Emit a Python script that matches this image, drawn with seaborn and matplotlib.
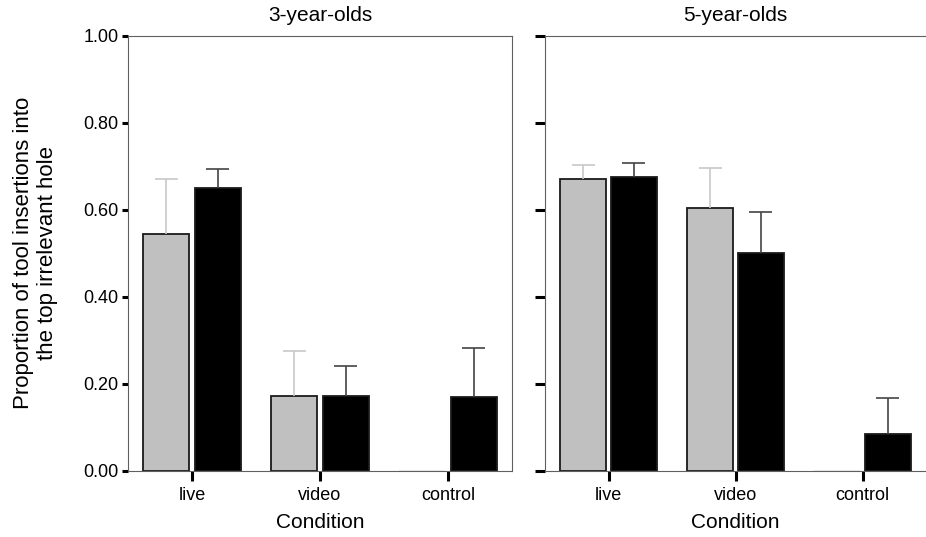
import numpy as np
import pandas as pd
import matplotlib
matplotlib.use("Agg")
import matplotlib.pyplot as plt
import seaborn as sns

conditions = ["live", "video", "control"]
groups = ["grey", "black"]
panel_titles = ["3-year-olds", "5-year-olds"]
y_ticks = [0.0, 0.2, 0.4, 0.6, 0.8, 1.0]

# 3-year-olds: means and upper error
grey_3 = [0.544, 0.172, 0.0]
grey_3_err = [0.126, 0.104, 0.0]
black_3 = [0.649, 0.172, 0.169]
black_3_err = [0.045, 0.068, 0.112]

# 5-year-olds
grey_5 = [0.671, 0.603, 0.0]
grey_5_err = [0.032, 0.094, 0.0]
black_5 = [0.676, 0.500, 0.084]
black_5_err = [0.031, 0.094, 0.084]

sns.set_style("white")
plt.rcParams["font.family"] = ["Liberation Sans", "DejaVu Sans"]
plt.rcParams["text.color"] = "black"
plt.rcParams["axes.labelcolor"] = "black"
plt.rcParams["xtick.color"] = "black"
plt.rcParams["ytick.color"] = "black"

palette = {"grey": "#c0c0c0", "black": "black"}
err_colors = {"grey": "#c8c8c8", "black": "#444444"}


def make_df(grey, grey_err, black, black_err):
    rows = []
    for i, c in enumerate(conditions):
        rows.append({"condition": c, "group": "grey", "value": grey[i], "err": grey_err[i]})
        rows.append({"condition": c, "group": "black", "value": black[i], "err": black_err[i]})
    return pd.DataFrame(rows)


def draw_panel(ax, df, title):
    sns.barplot(data=df, x="condition", y="value", hue="group", order=conditions,
                hue_order=groups, palette=palette, errorbar=None, width=0.8, gap=0.1,
                edgecolor="#1a1a1a", linewidth=1.3, legend=False, ax=ax)
    # bars sorted left to right match the rows of df (condition, then group)
    bars = sorted(ax.patches, key=lambda p: p.get_x())
    for bar, (_, row) in zip(bars, df.iterrows()):
        if row["value"] == 0:
            bar.set_edgecolor("#e8e8e8")
        if row["err"] <= 0:
            continue
        cx = bar.get_x() + bar.get_width() / 2
        top = row["value"] + row["err"]
        col = err_colors[row["group"]]
        ax.vlines(cx, row["value"], top, color=col, linewidth=1.2, zorder=1)
        ax.hlines(top, cx - 0.09, cx + 0.09, color=col, linewidth=1.2, zorder=1)

    ax.set_xlim(-0.5, 2.5)
    ax.set_ylim(0, 1.0)
    ax.set_yticks(y_ticks)
    ax.set_title(title, fontsize=15, pad=10.5)
    ax.set_xlabel("Condition", fontsize=15, labelpad=6)
    ax.tick_params(axis="x", bottom=True, direction="out", length=7, width=2.2,
                   labelsize=13, pad=5)
    ax.tick_params(axis="y", left=True, direction="out", length=4, width=2.2,
                   labelsize=13, pad=3)
    for s in ax.spines.values():
        s.set_color("#606060")
        s.set_linewidth(0.8)


fig = plt.figure(figsize=(9.26, 5.37), dpi=100)
W, H = 926, 537
ax1 = fig.add_axes([128 / W, 1 - 470.7 / H, 384 / W, 435 / H])
ax2 = fig.add_axes([545 / W, 1 - 470.7 / H, 381 / W, 435 / H])

draw_panel(ax1, make_df(grey_3, grey_3_err, black_3, black_3_err), panel_titles[0])
draw_panel(ax2, make_df(grey_5, grey_5_err, black_5, black_5_err), panel_titles[1])

ax1.set_yticklabels([f"{t:.2f}" for t in y_ticks])
ax1.set_ylabel("Proportion of tool insertions into\nthe top irrelevant hole", fontsize=16, labelpad=18)
ax2.set_yticklabels([])
ax2.set_ylabel("")
ax2.tick_params(axis="y", length=7)
ax2.spines["right"].set_visible(False)

fig.savefig("out.png", dpi=100)
